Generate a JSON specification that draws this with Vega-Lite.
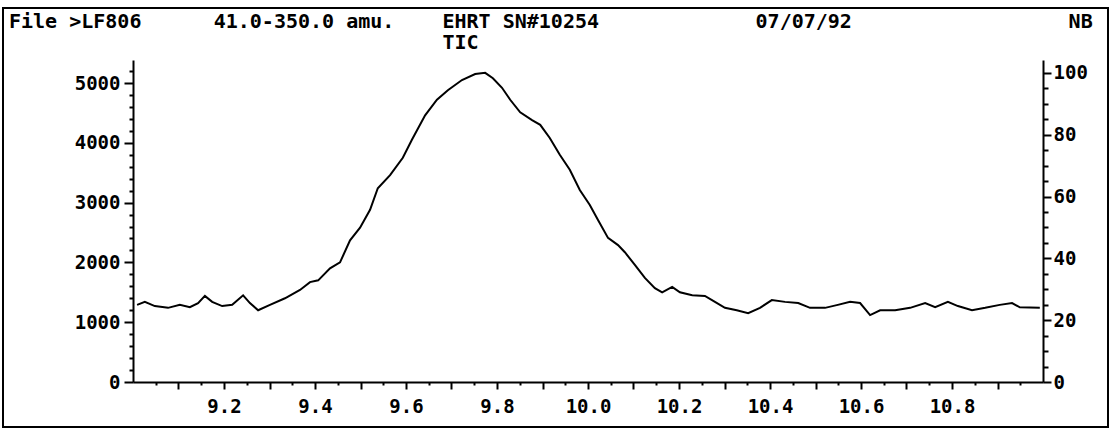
{
  "$schema": "https://vega.github.io/schema/vega-lite/v6.json",
  "autosize": {"type": "none"},
  "padding": {"left": 3, "top": 8, "right": 8, "bottom": 7},
  "width": 1105,
  "height": 419,
  "background": "white",
  "config": {
    "view": {"stroke": "black", "strokeWidth": 2},
    "axis": {
      "domainColor": "black", "domainWidth": 2, "tickColor": "black", "tickWidth": 2,
      "labelColor": "black", "labelFont": "DejaVu Sans Mono", "labelFontWeight": "bold",
      "labelFontSize": 19, "grid": false, "title": null
    }
  },
  "title": {
    "text": ["File >LF806\u00a0\u00a0\u00a0\u00a0\u00a0\u00a041.0-350.0 amu.\u00a0\u00a0\u00a0\u00a0EHRT SN#10254\u00a0\u00a0\u00a0\u00a0\u00a0\u00a0\u00a0\u00a0\u00a0\u00a0\u00a0\u00a0\u00a007/07/92\u00a0\u00a0\u00a0\u00a0\u00a0\u00a0\u00a0\u00a0\u00a0\u00a0\u00a0\u00a0\u00a0\u00a0\u00a0\u00a0\u00a0\u00a0NB",
             "\u200b\u00a0\u00a0\u00a0\u00a0\u00a0\u00a0\u00a0\u00a0\u00a0\u00a0\u00a0\u00a0\u00a0\u00a0\u00a0\u00a0\u00a0\u00a0\u00a0\u00a0\u00a0\u00a0\u00a0\u00a0\u00a0\u00a0\u00a0\u00a0\u00a0\u00a0\u00a0\u00a0\u00a0\u00a0\u00a0\u00a0TIC"],
    "anchor": "start",
    "frame": "group",
    "orient": "top",
    "font": "DejaVu Sans Mono",
    "fontSize": 20,
    "fontWeight": "bold",
    "color": "black",
    "lineHeight": 21,
    "baseline": "top",
    "offset": 0,
    "dx": 6,
    "dy": 45
  },
  "layer": [
    {
      "data": {"values": [
        {"time": 9.009, "tic": 1290}, {"time": 9.026, "tic": 1340}, {"time": 9.048, "tic": 1270},
        {"time": 9.077, "tic": 1240}, {"time": 9.103, "tic": 1290}, {"time": 9.125, "tic": 1250},
        {"time": 9.143, "tic": 1320}, {"time": 9.158, "tic": 1440}, {"time": 9.174, "tic": 1340},
        {"time": 9.196, "tic": 1270}, {"time": 9.218, "tic": 1290}, {"time": 9.242, "tic": 1450},
        {"time": 9.257, "tic": 1320}, {"time": 9.275, "tic": 1200}, {"time": 9.301, "tic": 1290},
        {"time": 9.334, "tic": 1400}, {"time": 9.367, "tic": 1540}, {"time": 9.389, "tic": 1670},
        {"time": 9.407, "tic": 1700}, {"time": 9.433, "tic": 1900}, {"time": 9.455, "tic": 2000},
        {"time": 9.477, "tic": 2370}, {"time": 9.499, "tic": 2580}, {"time": 9.521, "tic": 2880},
        {"time": 9.538, "tic": 3240}, {"time": 9.565, "tic": 3460}, {"time": 9.593, "tic": 3750},
        {"time": 9.613, "tic": 4050}, {"time": 9.642, "tic": 4460}, {"time": 9.668, "tic": 4720},
        {"time": 9.692, "tic": 4880}, {"time": 9.723, "tic": 5050}, {"time": 9.752, "tic": 5150},
        {"time": 9.774, "tic": 5170}, {"time": 9.791, "tic": 5080}, {"time": 9.811, "tic": 4920},
        {"time": 9.829, "tic": 4720}, {"time": 9.851, "tic": 4510}, {"time": 9.877, "tic": 4380},
        {"time": 9.895, "tic": 4300}, {"time": 9.916, "tic": 4080}, {"time": 9.938, "tic": 3800},
        {"time": 9.960, "tic": 3550}, {"time": 9.982, "tic": 3210}, {"time": 10.004, "tic": 2960},
        {"time": 10.022, "tic": 2710}, {"time": 10.044, "tic": 2410}, {"time": 10.066, "tic": 2290},
        {"time": 10.081, "tic": 2170}, {"time": 10.103, "tic": 1960}, {"time": 10.125, "tic": 1740},
        {"time": 10.147, "tic": 1570}, {"time": 10.163, "tic": 1500}, {"time": 10.185, "tic": 1590},
        {"time": 10.202, "tic": 1500}, {"time": 10.229, "tic": 1450}, {"time": 10.257, "tic": 1440},
        {"time": 10.279, "tic": 1340}, {"time": 10.301, "tic": 1240}, {"time": 10.327, "tic": 1200},
        {"time": 10.352, "tic": 1150}, {"time": 10.378, "tic": 1240}, {"time": 10.404, "tic": 1370},
        {"time": 10.433, "tic": 1340}, {"time": 10.462, "tic": 1320}, {"time": 10.488, "tic": 1240},
        {"time": 10.521, "tic": 1240}, {"time": 10.549, "tic": 1290}, {"time": 10.576, "tic": 1340},
        {"time": 10.598, "tic": 1320}, {"time": 10.620, "tic": 1120}, {"time": 10.642, "tic": 1200},
        {"time": 10.675, "tic": 1200}, {"time": 10.708, "tic": 1240}, {"time": 10.741, "tic": 1320},
        {"time": 10.763, "tic": 1250}, {"time": 10.791, "tic": 1340}, {"time": 10.813, "tic": 1270},
        {"time": 10.844, "tic": 1200}, {"time": 10.873, "tic": 1240}, {"time": 10.905, "tic": 1290},
        {"time": 10.932, "tic": 1320}, {"time": 10.949, "tic": 1250}, {"time": 10.993, "tic": 1240}
      ]},
      "mark": {"type": "line", "color": "black", "strokeWidth": 2, "interpolate": "linear"},
      "encoding": {
        "x": {
          "field": "time", "type": "quantitative",
          "scale": {"domain": [9.0, 11.0], "range": [130, 1040], "nice": false, "zero": false},
          "axis": {
            "orient": "bottom", "offset": -45,
            "values": [9.05, 9.1, 9.15, 9.2, 9.25, 9.3, 9.35, 9.4, 9.45, 9.5, 9.55, 9.6, 9.65, 9.7, 9.75, 9.8, 9.85, 9.9, 9.95, 10, 10.05, 10.1, 10.15, 10.2, 10.25, 10.3, 10.35, 10.4, 10.45, 10.5, 10.55, 10.6, 10.65, 10.7, 10.75, 10.8, 10.85, 10.9, 10.95],
            "labelExpr": "round(datum.value*100) % 20 === 0 ? format(datum.value, '.1f') : ''",
            "tickSize": {"condition": {"test": "round(datum.value*100) % 10 === 0", "value": 7}, "value": 3},
            "labelPadding": 8,
            "labelOverlap": false,
            "labelFlush": false
          }
        },
        "y": {
          "field": "tic", "type": "quantitative",
          "scale": {"domain": [0, 5385], "range": [374, 52], "nice": false},
          "axis": {
            "orient": "left", "offset": -130,
            "values": [0, 200, 400, 600, 800, 1000, 1200, 1400, 1600, 1800, 2000, 2200, 2400, 2600, 2800, 3000, 3200, 3400, 3600, 3800, 4000, 4200, 4400, 4600, 4800, 5000, 5200],
            "labelExpr": "datum.value % 1000 === 0 ? format(datum.value, 'd') : ''",
            "tickSize": {"condition": {"test": "datum.value % 1000 === 0", "value": 9}, "value": 4},
            "labelPadding": 4,
            "labelOverlap": false,
            "labelFlush": false
          }
        }
      }
    },
    {
      "data": {"values": [{"pct": 0}, {"pct": 100}]},
      "mark": {"type": "point", "opacity": 0},
      "encoding": {
        "y": {
          "field": "pct", "type": "quantitative",
          "scale": {"domain": [0, 104.2], "range": [374, 52], "nice": false},
          "axis": {
            "orient": "right", "offset": -65,
            "values": [0, 5, 10, 15, 20, 25, 30, 35, 40, 45, 50, 55, 60, 65, 70, 75, 80, 85, 90, 95, 100],
            "labelExpr": "datum.value % 20 === 0 ? format(datum.value, 'd') : ''",
            "tickSize": {"condition": {"test": "datum.value % 20 === 0", "value": 8}, "value": 5},
            "labelPadding": 2,
            "labelOverlap": false,
            "labelFlush": false
          }
        }
      }
    }
  ],
  "resolve": {"scale": {"y": "independent"}, "axis": {"y": "independent"}}
}
